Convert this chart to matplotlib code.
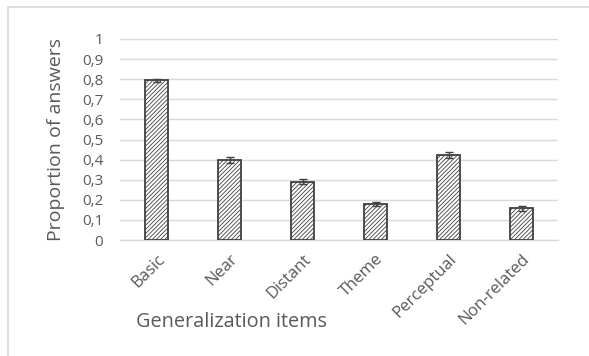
import matplotlib.pyplot as plt
from matplotlib.patches import Rectangle

categories = ["Basic", "Near", "Distant", "Theme", "Perceptual", "Non-related"]
values = [0.795, 0.400, 0.290, 0.177, 0.425, 0.157]
errors = [0.008, 0.015, 0.013, 0.010, 0.015, 0.011]
yticks = [0, 0.1, 0.2, 0.3, 0.4, 0.5, 0.6, 0.7, 0.8, 0.9, 1.0]
ytick_labels = ["0", "0,1", "0,2", "0,3", "0,4", "0,5", "0,6", "0,7", "0,8", "0,9", "1"]

plt.rcParams["font.family"] = ["Open Sans", "DejaVu Sans"]
plt.rcParams["hatch.color"] = "#404040"
plt.rcParams["hatch.linewidth"] = 0.6

W, H = 589, 356
fig = plt.figure(figsize=(W / 100, H / 100), dpi=100)
# plot area in pixels: x 120..558, y 39..240
ax = fig.add_axes([120 / W, 1 - 240 / H, 438 / W, 201 / H])

# outer chart border
fig.patches.append(Rectangle((8 / W, -0.05), 1.2, 1 - 7 / H + 0.05, transform=fig.transFigure,
                             fill=False, edgecolor="#d9d9d9", linewidth=1.2))

x = list(range(len(categories)))
ax.bar(x, values, width=0.32, color="white", edgecolor="#404040", linewidth=1.3,
       hatch="////////", zorder=3)
ax.errorbar(x, values, yerr=errors, fmt="none", ecolor="#404040", elinewidth=1,
            capsize=3, capthick=1, zorder=4)

ax.set_xlim(-0.5, len(categories) - 0.5)
ax.set_ylim(0, 1.0)
ax.set_yticks(yticks)
ax.set_yticklabels(ytick_labels)
ax.yaxis.grid(True, color="#d9d9d9", linewidth=1, zorder=0)
ax.set_axisbelow(True)
for s in ["top", "right", "left"]:
    ax.spines[s].set_visible(False)
ax.spines["bottom"].set_color("#d9d9d9")
ax.spines["bottom"].set_linewidth(1)
ax.tick_params(axis="both", length=0, colors="#595959")
ax.tick_params(axis="y", pad=12, labelsize=11)
ax.set_xticks(x)
ax.set_xticklabels(categories, rotation=45, ha="right", rotation_mode="anchor")
ax.tick_params(axis="x", pad=8, labelsize=12)

ax.set_ylabel("Proportion of answers", fontsize=14, color="#595959", labelpad=12)
fig.text(232 / W, 1 - 322 / H, "Generalization items", fontsize=14.3, color="#595959",
         ha="center", va="center")

fig.savefig("out.png", dpi=100)
